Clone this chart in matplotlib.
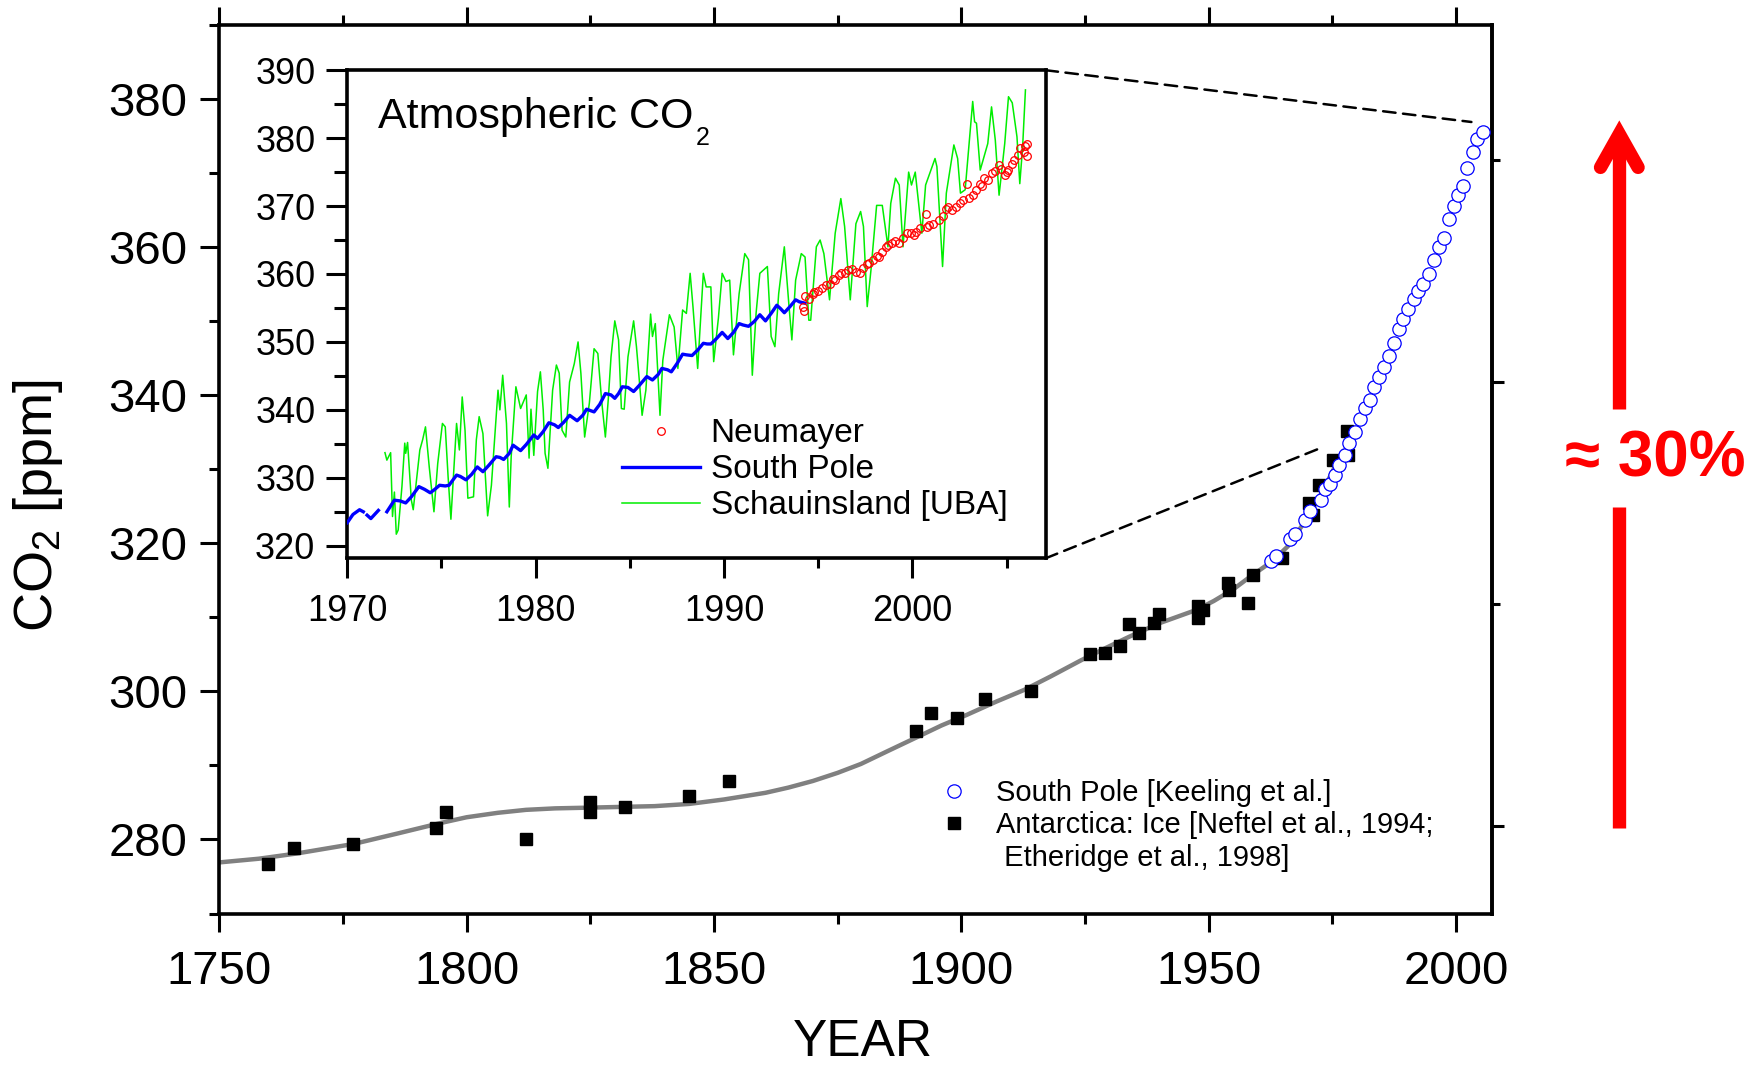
import matplotlib
matplotlib.use("Agg")
import numpy as np
import matplotlib.pyplot as plt
from matplotlib.lines import Line2D
from matplotlib.patches import ConnectionPatch
from matplotlib.ticker import MultipleLocator, NullFormatter

plt.rcParams["font.family"] = ["Liberation Sans", "DejaVu Sans"]
plt.rcParams["mathtext.default"] = "regular"

# ---- main panel: ice cores + South Pole annual means ----
ICE_YEAR = [1759.9, 1765.0, 1777.0, 1793.8, 1795.9, 1812.0, 1824.9, 1824.9,
            1832.0, 1845.0, 1853.0, 1890.8, 1893.9, 1899.1, 1904.8, 1914.0,
            1926.0, 1929.0, 1932.0, 1933.9, 1935.9, 1938.9, 1940.0, 1947.8,
            1947.9, 1948.8, 1953.9, 1954.0, 1958.0, 1958.9, 1964.8, 1970.3,
            1971.0, 1972.3, 1975.1, 1978.0, 1978.2]
ICE_PPM = [276.7, 278.9, 279.4, 281.6, 283.7, 280.0, 285.0, 283.7,
           284.4, 285.9, 287.9, 294.6, 297.1, 296.4, 299.0, 300.0,
           305.0, 305.2, 306.1, 309.1, 307.9, 309.3, 310.5, 311.5,
           309.9, 311.0, 314.6, 313.7, 312.0, 315.7, 318.0, 325.4,
           323.8, 327.9, 331.2, 335.1, 331.9]

FIT_YEAR = [1750, 1758, 1765.6, 1777.2, 1786, 1794.6, 1800, 1806.3, 1812,
            1817.9, 1825, 1831.4, 1838, 1845, 1852, 1860.4, 1865, 1870, 1875,
            1879.7, 1885, 1891.3, 1896, 1901, 1907, 1912.7, 1918, 1924.2,
            1929, 1934, 1940, 1947.5, 1951, 1955, 1958.4, 1962.9, 1966,
            1969.5, 1973, 1976]
FIT_PPM = [276.9, 277.4, 278.1, 279.4, 280.8, 282.2, 283.0, 283.6, 284.0,
           284.2, 284.3, 284.4, 284.5, 284.8, 285.4, 286.3, 287.0, 287.9,
           289.0, 290.2, 291.9, 293.9, 295.4, 296.8, 298.6, 300.2, 302.0,
           304.2, 305.8, 307.4, 309.2, 311.0, 312.2, 313.8, 315.5, 317.6,
           319.6, 323.0, 327.0, 331.0]

SP_YEAR = [1962.5, 1963.5, 1966.4, 1967.4, 1969.5, 1970.5, 1972.6, 1973.6,
           1974.5, 1975.5, 1976.4, 1977.6, 1978.4, 1979.5, 1980.5, 1981.5,
           1982.5, 1983.4, 1984.4, 1985.5, 1986.5, 1987.4, 1988.4, 1989.3,
           1990.3, 1991.4, 1992.3, 1993.4, 1994.5, 1995.5, 1996.5, 1997.5,
           1998.5, 1999.6, 2000.4, 2001.4, 2002.2, 2003.5, 2004.3, 2005.4]
SP_PPM = [317.6, 318.3, 320.6, 321.2, 323.1, 324.3, 325.9, 327.3,
          328.0, 329.2, 330.6, 331.9, 333.5, 335.0, 336.8, 338.3,
          339.4, 341.1, 342.5, 343.8, 345.3, 347.0, 348.9, 350.3,
          351.7, 353.0, 354.1, 355.0, 356.4, 358.3, 360.0, 361.2,
          363.8, 365.6, 367.1, 368.2, 370.7, 372.8, 374.6, 375.6]

# ---- inset: monthly records ----
nan = np.nan
BLUE_YEAR = [1970.0, 1970.3, 1970.65, 1970.85, nan, 1971.05, 1971.25, 1971.45,
             1971.65, nan, 1972.1, 1972.5, 1972.8, 1973.1, 1973.4, 1973.8,
             1974.1, 1974.4, 1974.6, 1974.9, 1975.2, 1975.4, 1975.8, 1976.0,
             1976.3, 1976.6, 1976.9, 1977.2, 1977.5, 1977.9, 1978.1, 1978.3,
             1978.6, 1978.8, 1979.2, 1979.5, 1979.9, 1980.1, 1980.4, 1980.7,
             1981.0, 1981.2, 1981.5, 1981.8, 1982.2, 1982.5, 1982.7, 1983.1,
             1983.4, 1983.7, 1984.0, 1984.2, 1984.4, 1984.6, 1984.9, 1985.2,
             1985.5, 1985.9, 1986.2, 1986.5, 1986.7, 1987.0, 1987.2, 1987.5,
             1987.8, 1988.0, 1988.3, 1988.6, 1988.9, 1989.1, 1989.3, 1989.6,
             1989.9, 1990.2, 1990.5, 1990.8, 1991.0, 1991.3, 1991.6, 1991.9,
             1992.2, 1992.5, 1992.8, 1993.0, 1993.2, 1993.5, 1993.8, 1994.0,
             1994.3]
BLUE_PPM = [323.4, 324.6, 325.3, 325.0, nan, 324.5, 324.0, 324.6,
            325.2, nan, 325.0, 326.7, 326.6, 326.3, 327.2, 328.7,
            328.3, 327.8, 328.2, 328.9, 328.8, 328.9, 330.4, 330.2,
            329.7, 330.5, 331.6, 330.9, 331.8, 333.1, 333.0, 332.7,
            333.6, 334.8, 334.0, 334.9, 336.3, 335.8, 336.8, 338.1,
            337.8, 337.4, 338.2, 339.2, 338.4, 339.2, 340.1, 339.7,
            340.8, 342.4, 342.2, 341.7, 342.4, 343.4, 343.3, 342.7,
            343.6, 344.9, 344.4, 345.2, 346.1, 345.9, 345.6, 346.8,
            348.2, 348.1, 348.0, 348.8, 349.8, 349.7, 349.7, 350.5,
            351.4, 350.5, 351.4, 352.7, 352.5, 352.3, 353.0, 354.0,
            353.1, 354.2, 355.4, 354.9, 354.3, 355.2, 356.2, 355.9,
            355.7]

GREEN_YEAR = [1972.0, 1972.1, 1972.3, 1972.4, 1972.5, 1972.6, 1972.7, 1972.9,
              1973.05, 1973.1, 1973.2, 1973.4, 1973.5, 1973.85, 1974.0, 1974.15,
              1974.35, 1974.6, 1974.8, 1975.05, 1975.2, 1975.35, 1975.5, 1975.8,
              1975.95, 1976.1, 1976.25, 1976.4, 1976.7, 1976.85, 1977.0, 1977.2,
              1977.45, 1977.65, 1978.0, 1978.1, 1978.25, 1978.45, 1978.6, 1978.7,
              1978.95, 1979.2, 1979.5, 1979.65, 1979.75, 1979.9, 1980.1, 1980.25,
              1980.4, 1980.5, 1980.65, 1980.9, 1981.1, 1981.25, 1981.4, 1981.6,
              1981.8, 1982.05, 1982.25, 1982.4, 1982.6, 1982.85, 1983.1, 1983.3,
              1983.5, 1983.7, 1983.85, 1984.0, 1984.2, 1984.4, 1984.55, 1984.7,
              1984.9, 1985.2, 1985.35, 1985.5, 1985.65, 1985.85, 1986.1, 1986.2,
              1986.35, 1986.6, 1986.75, 1987.1, 1987.35, 1987.55, 1987.8, 1988.0,
              1988.2, 1988.35, 1988.6, 1988.9, 1989.05, 1989.3, 1989.45, 1989.7,
              1989.9, 1990.1, 1990.3, 1990.5, 1990.8, 1991.1, 1991.3, 1991.5,
              1991.7, 1991.9, 1992.3, 1992.5, 1992.7, 1992.9, 1993.2, 1993.45,
              1993.6, 1993.8, 1994.1, 1994.3, 1994.5, 1994.6, 1994.9, 1995.1,
              1995.3, 1995.6, 1995.9, 1996.2, 1996.4, 1996.7, 1997.0, 1997.25,
              1997.4, 1997.6, 1997.8, 1998.1, 1998.4, 1998.7, 1998.85, 1999.1,
              1999.3, 1999.5, 1999.8, 1999.95, 2000.15, 2000.5, 2000.7, 2001.2,
              2001.3, 2001.6, 2001.8, 2002.2, 2002.4, 2002.55, 2002.8, 2003.2,
              2003.3, 2003.4, 2003.6, 2004.0, 2004.2, 2004.4, 2004.6, 2004.9,
              2005.1, 2005.3, 2005.55, 2005.7, 2005.85, 2006.0]
GREEN_PPM = [333.7, 332.6, 333.7, 324.3, 327.9, 321.7, 322.3, 328.7,
             335.1, 333.6, 335.2, 326.7, 325.3, 334.1, 335.6, 337.5,
             331.6, 325.0, 332.1, 338.0, 337.5, 330.2, 323.9, 338.0,
             334.1, 341.9, 337.0, 327.0, 327.2, 335.6, 339.0, 336.5,
             324.4, 328.9, 342.9, 340.0, 345.1, 338.0, 325.7, 333.1,
             343.4, 340.2, 342.2, 332.9, 340.1, 333.3, 342.7, 345.6,
             340.0, 333.6, 331.4, 342.9, 346.6, 345.4, 337.0, 336.0,
             344.1, 346.8, 350.0, 345.4, 336.0, 341.0, 349.0, 348.3,
             341.4, 336.0, 341.4, 347.8, 353.1, 350.3, 340.2, 340.1,
             347.8, 353.1, 349.3, 344.4, 339.2, 342.9, 354.1, 350.8,
             352.7, 339.2, 347.3, 354.0, 352.2, 346.1, 354.7, 354.2,
             360.1, 355.2, 346.1, 360.1, 358.1, 358.1, 347.1, 353.5,
             360.1, 358.9, 359.1, 348.1, 357.1, 363.0, 362.1, 345.1,
             354.2, 360.1, 361.1, 350.8, 349.3, 357.1, 364.0, 355.2,
             350.3, 359.1, 363.0, 362.5, 353.2, 353.2, 364.0, 365.0,
             363.0, 356.2, 366.0, 371.1, 367.0, 356.2, 367.4, 369.2,
             367.0, 355.2, 360.6, 370.1, 370.1, 364.0, 370.4, 374.1,
             373.1, 364.0, 375.0, 373.1, 375.0, 366.0, 373.1, 377.0,
             375.8, 361.1, 371.9, 379.0, 377.0, 371.9, 372.4, 385.4,
             382.4, 382.2, 375.3, 379.2, 384.6, 379.7, 371.6, 379.2,
             386.1, 385.2, 380.2, 373.3, 378.7, 387.1]

NEU_YEAR = [1994.2, 1994.25, 1994.3, 1994.5, 1994.7, 1994.8, 1995.0, 1995.2,
            1995.4, 1995.6, 1995.8, 1995.9, 1996.1, 1996.2, 1996.4, 1996.6,
            1996.8, 1997.0, 1997.2, 1997.4, 1997.6, 1997.7, 1997.9, 1998.1,
            1998.2, 1998.4, 1998.6, 1998.7, 1998.9, 1999.1, 1999.3, 1999.5,
            1999.7, 1999.9, 2000.1, 2000.2, 2000.4, 2000.7, 2000.8, 2000.9,
            2001.1, 2001.4, 2001.6, 2001.8, 2001.9, 2002.1, 2002.3, 2002.5,
            2002.7, 2002.9, 2003.0, 2003.2, 2003.4, 2003.6, 2003.7, 2003.8,
            2004.0, 2004.2, 2004.4, 2004.6, 2004.7, 2004.9, 2005.0, 2005.1,
            2005.3, 2005.4, 2005.6, 2005.7, 2005.9, 2006.0, 2006.1, 2006.1]
NEU_PPM = [355.2, 354.5, 356.7, 356.3, 357.0, 357.4, 357.5, 358.0,
           358.4, 358.6, 359.2, 359.1, 359.8, 360.1, 360.2, 360.6,
           360.7, 360.3, 360.1, 360.9, 361.4, 361.6, 362.0, 362.6,
           362.5, 363.3, 364.0, 364.3, 364.6, 364.8, 364.6, 365.3,
           366.0, 366.1, 365.8, 366.2, 366.7, 368.9, 366.9, 367.2,
           367.4, 367.9, 368.6, 369.6, 369.9, 369.4, 369.9, 370.4,
           370.9, 373.3, 371.2, 371.6, 372.4, 373.3, 373.0, 374.1,
           373.8, 374.8, 375.2, 376.0, 375.4, 374.6, 375.0, 375.3,
           376.2, 376.8, 377.5, 378.5, 377.9, 378.8, 379.2, 377.3]

W, H = 1750, 1068


def fp(x, y):
    """pixel position in the 1750x1068 canvas -> figure fraction"""
    return x / W, 1 - y / H


fig = plt.figure(figsize=(W / 100, H / 100), dpi=100)

# main axes
ax = fig.add_axes([219.3 / W, 1 - 913.5 / H, (1491.7 - 219.3) / W, (913.5 - 25) / H])
ax.plot(FIT_YEAR, FIT_PPM, color="#808080", lw=3.2, zorder=2)
ax.plot(ICE_YEAR, ICE_PPM, ls="none", marker="s", ms=8.6, color="black", zorder=3)
ax.plot(SP_YEAR, SP_PPM, ls="none", marker="o", ms=9.6, mfc="white",
        mec="blue", mew=0.9, zorder=4)

ax.set_xlim(1750, 2007.2)
ax.set_ylim(270, 390)
ax.xaxis.set_major_locator(MultipleLocator(50))
ax.xaxis.set_minor_locator(MultipleLocator(25))
ax.yaxis.set_major_locator(MultipleLocator(20))
ax.yaxis.set_minor_locator(MultipleLocator(10))
ax.tick_params(axis="x", which="major", direction="out", length=13.2, width=2.2,
               top=True, labelsize=34, pad=13)
ax.tick_params(axis="x", which="minor", direction="out", length=7, width=2.2, top=True)
ax.tick_params(axis="y", which="major", direction="out", length=13.7, width=2.2,
               right=False, labelsize=34, pad=9.5)
ax.tick_params(axis="y", which="minor", direction="out", length=7.2, width=2.2, right=False)
for sp in ax.spines.values():
    sp.set_linewidth(2.6)

sec = ax.secondary_yaxis("right")
sec.set_yticks([281.8, 341.8])
sec.set_yticks([311.8, 371.8], minor=True)
sec.yaxis.set_major_formatter(NullFormatter())
sec.tick_params(which="major", length=8.6, width=2.2)
sec.tick_params(which="minor", length=6, width=2.2)
sec.spines["right"].set_linewidth(2.6)

ax.set_xlabel("YEAR", fontsize=37, va="baseline")
ax.xaxis.set_label_coords((863 - 219.3) / 1272.4, (913.5 - 1056) / 888.5)
ax.set_ylabel("CO$_2$ [ppm]", fontsize=39, va="center")
ax.yaxis.set_label_coords((38 - 219.3) / 1272.4, (913.5 - 506) / 888.5)

main_handles = [
    Line2D([], [], ls="none", marker="o", ms=9.6, mfc="white", mec="blue", mew=0.9),
    Line2D([], [], ls="none", marker="s", ms=8.6, color="black"),
    Line2D([], [], ls="none"),
]
main_labels = ["South Pole [Keeling et al.]",
               "Antarctica: Ice [Neftel et al., 1994;",
               " Etheridge et al., 1998]"]
ax.legend(main_handles, main_labels, loc="upper left",
          bbox_to_anchor=fp(924.8, 779), bbox_transform=fig.transFigure,
          frameon=False, fontsize=21, handlelength=2.0, handletextpad=0.44,
          labelspacing=0.15, borderpad=0, borderaxespad=0)

# inset
axin = fig.add_axes([347.3 / W, 1 - 558.3 / H, (1045.6 - 347.3) / W, (558.3 - 70.2) / H],
                    zorder=5)
axin.set_facecolor("white")
axin.plot(GREEN_YEAR, GREEN_PPM, color="#00ee00", lw=1.1, zorder=2)
axin.plot(BLUE_YEAR, BLUE_PPM, color="#0000ff", lw=2.4, zorder=3)
axin.plot(NEU_YEAR, NEU_PPM, ls="none", marker="o", ms=5.5, mfc="none",
          mec="red", mew=0.9, zorder=4)
axin.set_xlim(1970, 2007.07)
axin.set_ylim(318.15, 390)
axin.xaxis.set_major_locator(MultipleLocator(10))
axin.xaxis.set_minor_locator(MultipleLocator(5))
axin.yaxis.set_major_locator(MultipleLocator(10))
axin.yaxis.set_minor_locator(MultipleLocator(5))
axin.tick_params(axis="x", which="major", direction="out", length=14.4, width=2.2,
                 labelsize=26, pad=11)
axin.tick_params(axis="x", which="minor", direction="out", length=7.2, width=2.2)
axin.tick_params(axis="y", which="major", direction="out", length=15, width=2.2,
                 labelsize=26, pad=8)
axin.tick_params(axis="y", which="minor", direction="out", length=9.6, width=2.2)
for sp in axin.spines.values():
    sp.set_linewidth(2.6)

# title with a low-set subscript, as in the original
title = axin.text(0.044, 0.8816, "Atmospheric CO", transform=axin.transAxes,
                  fontsize=31, va="baseline", ha="left")
axin.annotate("2", xy=(1, 0), xycoords=title, xytext=(1.5, -1),
              textcoords="offset points", fontsize=18, va="center", ha="left")

inset_handles = [
    Line2D([], [], ls="none", marker="o", ms=5.5, mfc="none", mec="red", mew=0.9),
    Line2D([], [], color="#0000ff", lw=2.4),
    Line2D([], [], color="#00ee00", lw=1.1),
]
axin.legend(inset_handles, ["Neumayer", "South Pole", "Schauinsland [UBA]"],
            loc="upper left", bbox_to_anchor=fp(622, 418.5),
            bbox_transform=fig.transFigure, frameon=False, fontsize=24,
            handlelength=2.35, handletextpad=0.31, labelspacing=0.15,
            borderpad=0, borderaxespad=0)

# dashed zoom lines from inset corners to the main curve
for corner, target in [((1, 1), (2003.1, 376.9)), ((1, 0), (1973.3, 333.05))]:
    con = ConnectionPatch(xyA=corner, coordsA=axin.transAxes,
                          xyB=target, coordsB=ax.transData,
                          color="black", lw=1.8, linestyle=(0, (5, 3)))
    fig.add_artist(con)

# red arrow with the 30 % note
ax_x = 1619.3
fig.add_artist(Line2D([fp(ax_x, 0)[0]] * 2, [fp(0, 828)[1], fp(0, 507)[1]],
                      transform=fig.transFigure, color="red", lw=9.6,
                      solid_capstyle="butt"))
fig.add_artist(Line2D([fp(ax_x, 0)[0]] * 2, [fp(0, 409)[1], fp(0, 140)[1]],
                      transform=fig.transFigure, color="red", lw=9.6,
                      solid_capstyle="butt"))
head = [fp(1600.5, 167.4), fp(ax_x, 134), fp(1638.1, 167.4)]
fig.add_artist(Line2D([p[0] for p in head], [p[1] for p in head],
                      transform=fig.transFigure, color="red", lw=9.6,
                      solid_capstyle="round", solid_joinstyle="miter"))
tx, ty = fp(1655, 460)
fig.text(tx, ty, "≈ 30%", color="red", fontsize=46, fontweight="bold",
         ha="center", va="center")

fig.savefig("out.png", dpi=100)
plt.close(fig)
